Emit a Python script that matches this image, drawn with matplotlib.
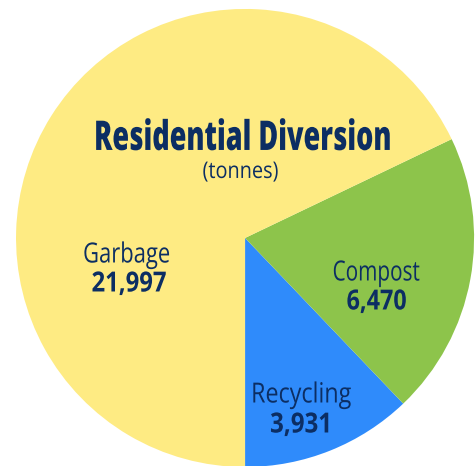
import matplotlib
matplotlib.use("Agg")
import matplotlib.pyplot as plt
from matplotlib.patheffects import AbstractPathEffect
from matplotlib.transforms import Affine2D

categories = ["Recycling", "Compost", "Garbage"]
values = [3931, 6470, 21997]
value_labels = ["3,931", "6,470", "21,997"]
colors = ["#2F8BFB", "#8DC44B", "#FEEB83"]
title = "Residential Diversion"
subtitle = "(tonnes)"

FAM = ["Open Sans", "DejaVu Sans"]
TXT = "#0C2E63"


class HSqueeze(AbstractPathEffect):
    """Compress text horizontally about its anchor (condensed look)."""
    def __init__(self, text, sx):
        super().__init__()
        self.text = text
        self.sx = sx

    def draw_path(self, renderer, gc, tpath, affine, rgbFace=None):
        cx, _ = self.text.get_transform().transform(self.text.get_position())
        t = affine + Affine2D().translate(-cx, 0).scale(self.sx, 1).translate(cx, 0)
        renderer.draw_path(gc, tpath, t, rgbFace)


fig = plt.figure(figsize=(4.75, 4.66), dpi=100)
ax = fig.add_axes([0, 0, 1, 1])
ax.pie(values, colors=colors, startangle=-90, counterclock=True,
       radius=1.0, center=(0, 0), wedgeprops=dict(linewidth=0))
ax.set_xlim(-1.070, 1.004)
ax.set_ylim(-0.9956, 1.039)
ax.set_aspect("equal")
ax.axis("off")


def px(x, y):
    return ((x - 245) / 229.0, (238 - y) / 229.0)


texts = []  # (text artist, target ink width in px)
t = ax.text(*px(243, 150), title, ha="center", va="baseline", fontsize=29.5,
            fontweight=800, color=TXT, family=FAM)
texts.append((t, 298))
t = ax.text(*px(240.5, 178), subtitle, ha="center", va="baseline", fontsize=16.5,
            color=TXT, family=FAM)
texts.append((t, 76))

# (label x, label baseline y, label width, value x, value baseline y, value width)
label_layout = {"Garbage": (126.5, 262.5, 87, 129, 291.5, 75),
                "Compost": (376, 280.5, 87, 376.5, 309.5, 60),
                "Recycling": (301, 402.5, 100, 301, 432.5, 62)}
for cat, vl in zip(categories, value_labels):
    x1, y1, w1, x2, y2, w2 = label_layout[cat]
    t = ax.text(*px(x1, y1), cat, ha="center", va="baseline", fontsize=20,
                fontweight=500, color=TXT, family=FAM)
    texts.append((t, w1))
    t = ax.text(*px(x2, y2), vl, ha="center", va="baseline", fontsize=20,
                fontweight="bold", color=TXT, family=FAM)
    texts.append((t, w2))

fig.canvas.draw()
renderer = fig.canvas.get_renderer()
for t, w in texts:
    cur = t.get_window_extent(renderer).width
    t.set_path_effects([HSqueeze(t, w / cur)])

fig.savefig("out.png", dpi=100, facecolor="white")
